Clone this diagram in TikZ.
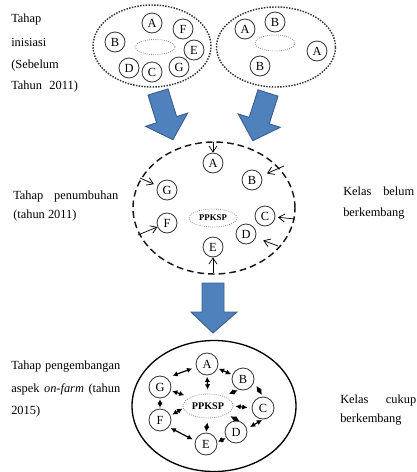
\documentclass[tikz,border=0pt]{standalone}
\usepackage{fontspec}
\setmainfont{Liberation Serif}
\usetikzlibrary{shapes.geometric,arrows.meta}
\definecolor{blk}{HTML}{4F81BD}
\definecolor{blkb}{HTML}{3A5F8E}
\begin{document}
\begin{tikzpicture}[x=0.75pt,y=-0.75pt, font=\fontsize{9.3}{11}\selectfont,
 lbl/.style={anchor=base west, inner sep=0},
 cnode/.style={circle, draw=black!80, line width=0.6pt, minimum size=15pt, inner sep=0},
 cbig/.style={cnode, minimum size=16.5pt},
 innerell/.style={ellipse, draw=black!45, densely dotted, line width=0.6pt, inner sep=0},
 bigell/.style={ellipse, inner sep=0},
 blockarrow/.style={fill=blk, draw=blkb, line width=0.7pt, line join=miter},
 thinarr/.style={-{Straight Barb[length=4.5pt,width=6pt]}, line width=0.55pt},
 dbl/.style={{Latex[length=4pt,width=4pt]}-{Latex[length=4pt,width=4pt]}, line width=0.9pt}
]
\useasboundingbox (0,0) rectangle (417,472);

% ---------- texts ----------
\node[lbl] (t1) at (11,22) {Tahap};
\node[lbl] (t2) at (11,46) {inisiasi};
\node[lbl] (t3) at (11,68) {(Sebelum};
\node[lbl] (t4) at (11,89) {\makebox[50pt][s]{Tahun 2011)}};

\node[lbl] (m1) at (13,199) {\makebox[78.75pt][s]{Tahap penumbuhan}};
\node[lbl] (m2) at (13,218) {(tahun 2011)};
\node[lbl] (r1) at (343,195) {\makebox[53.25pt][s]{Kelas belum}};
\node[lbl] (r2) at (343,216) {berkembang};

\node[lbl] (b1) at (11,369) {\makebox[81.75pt][s]{Tahap pengembangan}};
\node[lbl] (b2) at (11,392) {\makebox[81.75pt][s]{aspek \textit{on-farm} (tahun}};
\node[lbl] (b3) at (11,414) {2015)};
\node[lbl] (s1) at (340,403) {\makebox[57pt][s]{Kelas cukup}};
\node[lbl] (s2) at (340,422) {berkembang};

% ---------- top left group ----------
\node[bigell, draw=black!80, densely dotted, line width=1.1pt, minimum width=88.5pt, minimum height=61.5pt] (L) at (152,46) {};
\node[innerell, minimum width=30pt, minimum height=11.25pt] (Li) at (155,47) {};
\node[cnode] (LA) at (152,23) {A};
\node[cnode] (LF) at (183,29) {F};
\node[cnode] (LB) at (115,42) {B};
\node[cnode] (LE) at (194,50) {E};
\node[cnode] (LD) at (129,68) {D};
\node[cnode] (LC) at (152,72) {C};
\node[cnode] (LG) at (179,67) {G};

% ---------- top right group ----------
\node[bigell, draw=black!80, densely dotted, line width=1.1pt, minimum width=89.25pt, minimum height=60pt] (R) at (276,47) {};
\node[innerell, minimum width=30pt, minimum height=12pt] (Ri) at (275,43) {};
\node[cnode] (RA1) at (245,29) {A};
\node[cnode] (RB1) at (275,22) {B};
\node[cnode] (RA2) at (317,51) {A};
\node[cnode] (RB2) at (260,66) {B};

% ---------- block arrows ----------
\draw[blockarrow] (168.0,88.9) -- (176.6,116.6) -- (187.6,113.1) -- (172.9,139.7)
  -- (145.6,126.3) -- (156.6,122.8) -- (148.0,95.1) -- cycle;
\draw[blockarrow] (278.0,96.2) -- (269.2,123.8) -- (280.2,127.3) -- (252.8,140.7)
  -- (238.2,113.9) -- (249.2,117.4) -- (258.0,89.8) -- cycle;
\draw[blockarrow] (202,283) -- (224,283) -- (224,312) -- (237,312) -- (213,333)
  -- (191,312) -- (202,312) -- cycle;

% ---------- middle group ----------
\node[bigell, draw=black!90, dash pattern=on 5pt off 3pt, line width=1.1pt, minimum width=121.5pt, minimum height=99pt] (M) at (214,208) {};
\node[innerell, minimum width=36pt, minimum height=13.5pt, font=\fontsize{6.6}{7}\selectfont\bfseries] (MP) at (213,218) {PPKSP};
\node[cnode] (MA) at (213,163) {A};
\node[cnode] (MB) at (252,180) {B};
\node[cnode] (MG) at (167,190) {G};
\node[cnode] (MC) at (265,216) {C};
\node[cnode] (MF) at (167,223) {F};
\node[cnode] (MD) at (246,234) {D};
\node[cnode] (ME) at (213,247) {E};

\coordinate (cA) at (213,142);
\coordinate (cB) at (284,166);
\coordinate (cG) at (140,178);
\coordinate (cF) at (138,235);
\coordinate (cC) at (295,219);
\coordinate (cD) at (278,246);
\coordinate (cE) at (213,273);
\draw[thinarr] (cA) -- (MA);
\draw[thinarr, shorten >=4.5pt] (cB) -- (MB);
\draw[thinarr, shorten >=3pt] (cG) -- (MG);
\draw[thinarr] (cF) -- (MF);
\draw[thinarr, shorten >=2pt] (cC) -- (MC);
\draw[thinarr, shorten >=6pt] (cD) -- (MD);
\draw[thinarr] (cE) -- (ME);

% ---------- bottom group ----------
\node[bigell, draw=black, line width=1pt, minimum width=123pt, minimum height=98.25pt] (B) at (214,406) {};
\node[innerell, minimum width=37.5pt, minimum height=18pt, font=\fontsize{7.6}{8}\selectfont\bfseries] (BP) at (208,406) {PPKSP};
\node[cbig] (BA) at (207,364) {A};
\node[cbig] (BB) at (243,379) {B};
\node[cbig] (BG) at (160,387) {G};
\node[cbig] (BC) at (263,408) {C};
\node[cbig] (BF) at (160,420) {F};
\node[cbig] (BD) at (236,432) {D};
\node[cbig] (BE) at (206,444) {E};

\draw[dbl, shorten <=4.5pt, shorten >=3pt] (BG.54) -- (BA.196);
\draw[dbl, shorten <=1pt, shorten >=1pt] (BA.338) -- (BB.158);
\draw[dbl, shorten <=1pt, shorten >=3pt] (BA.south) -- (BP.north);
\draw[dbl, shorten <=1pt, shorten >=4.5pt] (BG.342) -- (BP.154);
\draw[dbl, shorten <=1pt, shorten >=4.5pt] (BB.250) -- (BP.33);
\draw[dbl, shorten <=3.4pt, shorten >=1.5pt] (BB.345) -- (BC.90);
\draw[dbl, shorten <=1.5pt, shorten >=3pt] (BP.east) -- (BC.180);
\draw[dbl, shorten <=0.5pt, shorten >=0.5pt] (BG.south) -- (BF.north);
\draw[dbl, shorten <=1.5pt, shorten >=0.5pt] (BF.22) -- (BP.185);
\draw[dbl, shorten <=3pt, shorten >=0.5pt] (BP.-24) -- (BD.68);
\draw[dbl, shorten <=0.75pt, shorten >=2.7pt] (BC.270) -- (BD.16);
\draw[dbl, shorten <=3pt, shorten >=0.5pt] (BP.south) -- (BE.north);
\draw[dbl, shorten <=1.4pt, shorten >=2pt] (BF.321) -- (BE.163);
\draw[dbl, shorten <=0.5pt, shorten >=0.5pt] (BE.10) -- (BD.212);
\end{tikzpicture}
\end{document}
